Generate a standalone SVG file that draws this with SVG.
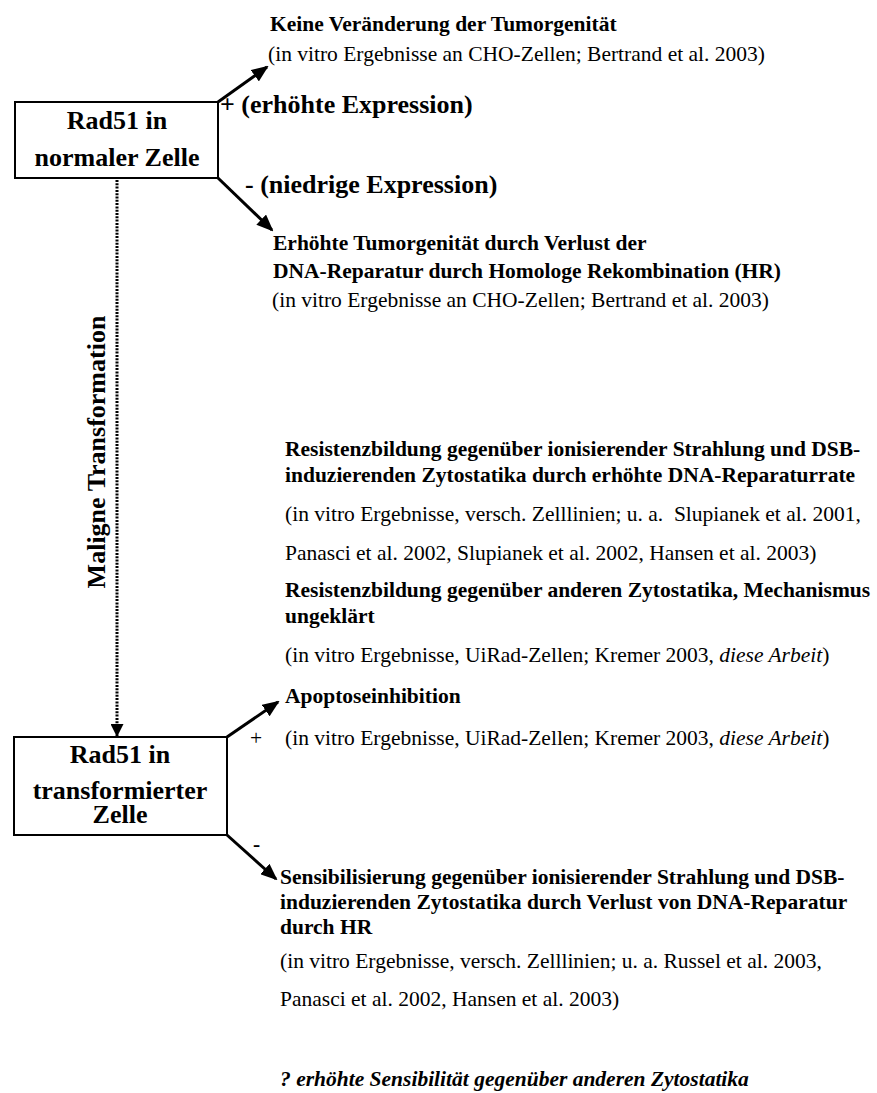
<svg xmlns="http://www.w3.org/2000/svg" width="877" height="1093" viewBox="0 0 877 1093">
<style>
text{font-family:"Liberation Serif","Times New Roman","DejaVu Serif",serif;fill:#000}
.b{font-weight:bold;font-size:21.5px}
.r{font-size:21.5px}
.bi{font-weight:bold;font-style:italic;font-size:21.5px}
.big{font-weight:bold;font-size:26px}
.bx{font-weight:bold;font-size:26px;text-anchor:middle}
.box{fill:#fff;stroke:#000;stroke-width:2}
.arr{stroke:#000;stroke-width:3;fill:none;marker-end:url(#ah)}
.dot{stroke:#000;stroke-width:3;fill:none;stroke-dasharray:2 1.3;marker-end:url(#ahs)}
</style>
<defs>
<marker id="ah" markerUnits="userSpaceOnUse" markerWidth="17" markerHeight="14" refX="15" refY="7" orient="auto">
<path d="M0,0 L17,7 L0,14 z" fill="#000"/>
</marker>
<marker id="ahs" markerUnits="userSpaceOnUse" markerWidth="13" markerHeight="13" refX="12" refY="6.5" orient="auto">
<path d="M0,0 L13,6.5 L0,13 z" fill="#000"/>
</marker>
</defs>
<rect width="877" height="1093" fill="#fff"/>
<g id="connectors">
<line class="arr" x1="218" y1="102" x2="267" y2="67"/>
<line class="arr" x1="218" y1="178" x2="272" y2="230"/>
<line class="arr" x1="227" y1="737" x2="278" y2="702"/>
<line class="arr" x1="227" y1="835" x2="276" y2="879"/>
<line class="dot" x1="117" y1="180" x2="117" y2="736"/>
</g>
<g id="node-normal">
<rect class="box" x="15" y="102" width="203" height="76"/>
<text class="bx" x="117" y="129">Rad51 in</text>
<text class="bx" x="117" y="166">normaler Zelle</text>
</g>
<g id="node-transformed">
<rect class="box" x="14" y="737" width="213" height="98"/>
<text class="bx" x="120" y="763">Rad51 in</text>
<text class="bx" x="120" y="799">transformierter</text>
<text class="bx" x="120" y="823">Zelle</text>
</g>
<g id="label-maligne">
<text class="big" text-anchor="middle" transform="translate(105,452) rotate(-90)">Maligne Transformation</text>
</g>
<g id="result-high-normal">
<text class="b" x="270" y="31">Keine Veränderung der Tumorgenität</text>
<text class="r" x="268" y="61">(in vitro Ergebnisse an CHO-Zellen; Bertrand et al. 2003)</text>
<text class="big" x="220" y="113">+ (erhöhte Expression)</text>
</g>
<g id="result-low-normal">
<text class="big" x="245" y="193">- (niedrige Expression)</text>
<text class="b" x="273" y="250">Erhöhte Tumorgenität durch Verlust der</text>
<text class="b" x="273" y="278">DNA-Reparatur durch Homologe Rekombination (HR)</text>
<text class="r" x="272" y="307">(in vitro Ergebnisse an CHO-Zellen; Bertrand et al. 2003)</text>
</g>
<g id="result-high-transformed">
<text class="b" x="285" y="456">Resistenzbildung gegenüber ionisierender Strahlung und DSB-</text>
<text class="b" x="285" y="482">induzierenden Zytostatika durch erhöhte DNA-Reparaturrate</text>
<text class="r" x="285" y="521" xml:space="preserve">(in vitro Ergebnisse, versch. Zelllinien; u. a.  Slupianek et al. 2001,</text>
<text class="r" x="285" y="560">Panasci et al. 2002, Slupianek et al. 2002, Hansen et al. 2003)</text>
<text class="b" x="285" y="597">Resistenzbildung gegenüber anderen Zytostatika, Mechanismus</text>
<text class="b" x="285" y="623">ungeklärt</text>
<text class="r" x="285" y="662">(in vitro Ergebnisse, UiRad-Zellen; Kremer 2003, <tspan font-style="italic">diese Arbeit</tspan>)</text>
<text class="b" x="285" y="703">Apoptoseinhibition</text>
<text class="r" x="250" y="745">+</text>
<text class="r" x="285" y="745">(in vitro Ergebnisse, UiRad-Zellen; Kremer 2003, <tspan font-style="italic">diese Arbeit</tspan>)</text>
</g>
<g id="result-low-transformed">
<text class="b" x="253" y="851">-</text>
<text class="b" x="280" y="884">Sensibilisierung gegenüber ionisierender Strahlung und DSB-</text>
<text class="b" x="280" y="909">induzierenden Zytostatika durch Verlust von DNA-Reparatur</text>
<text class="b" x="280" y="934">durch HR</text>
<text class="r" x="280" y="968">(in vitro Ergebnisse, versch. Zelllinien; u. a. Russel et al. 2003,</text>
<text class="r" x="280" y="1006">Panasci et al. 2002, Hansen et al. 2003)</text>
<text class="bi" x="280" y="1086">? erhöhte Sensibilität gegenüber anderen Zytostatika</text>
</g>
</svg>
